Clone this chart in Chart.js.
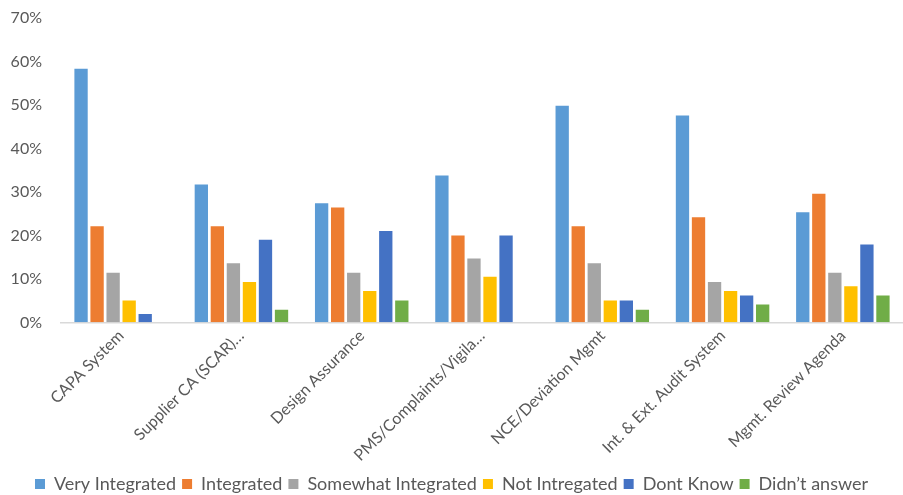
<!DOCTYPE html>
<html>
<head>
<meta charset="utf-8">
<script src="https://cdn.jsdelivr.net/npm/chart.js@4/dist/chart.umd.min.js"></script>
<style>
    html, body { margin: 0; padding: 0; background: #fff; }
    #wrap { width: 903px; height: 495px; }
</style>
</head>
<body>
<div id="wrap"><canvas id="integrationChart" width="903" height="495"></canvas></div>
<script>
"use strict";
const categories = ['CAPA System', 'Supplier CA (SCAR)…', 'Design Assurance', 'PMS/Complaints/Vigila…',
    'NCE/Deviation Mgmt', 'Int. & Ext. Audit System', 'Mgmt. Review Agenda'];
const veryIntegrated = [58.3, 31.7, 27.4, 33.8, 49.8, 47.6, 25.3];
const integrated = [22.1, 22.1, 26.4, 20.0, 22.1, 24.2, 29.6];
const somewhatIntegrated = [11.4, 13.6, 11.4, 14.7, 13.6, 9.3, 11.4];
const notIntegrated = [5.0, 9.3, 7.2, 10.5, 5.0, 7.2, 8.3];
const dontKnow = [1.9, 19.0, 21.0, 20.0, 5.0, 6.2, 17.9];
const didntAnswer = [0, 2.9, 5.0, 0, 2.9, 4.1, 6.2];
const seriesNames = ['Very Integrated', 'Integrated', 'Somewhat Integrated', 'Not Intregated', 'Dont Know', 'Didn’t answer'];
const seriesColors = ['#5B9BD5', '#ED7D31', '#A5A5A5', '#FFC000', '#4472C4', '#70AD47'];

const textColor = '#595959';
const fontFamily = 'Lato, "Noto Sans", sans-serif';

const seriesValues = [veryIntegrated, integrated, somewhatIntegrated, notIntegrated, dontKnow, didntAnswer];
const datasets = seriesValues.map((values, i) => ({
    label: seriesNames[i],
    data: values,
    backgroundColor: seriesColors[i],
    borderWidth: 0,
    categoryPercentage: 0.8,
    barPercentage: 0.83
}));

const ctx = document.getElementById('integrationChart').getContext('2d');
new Chart(ctx, {
    type: 'bar',
    data: { labels: categories, datasets: datasets },
    options: {
        responsive: false,
        animation: false,
        layout: { padding: { left: 0, right: 0, top: 18, bottom: -8 } },
        plugins: {
            tooltip: { enabled: false },
            legend: {
                position: 'bottom',
                labels: {
                    boxWidth: 10,
                    boxHeight: 10,
                    padding: 6,
                    color: textColor,
                    font: { family: fontFamily, size: 18 }
                }
            }
        },
        scales: {
            x: {
                grid: { display: false, drawTicks: false },
                border: { color: '#D9D9D9', width: 1.5 },
                ticks: {
                    autoSkip: false,
                    minRotation: 45,
                    maxRotation: 45,
                    padding: 4,
                    color: textColor,
                    font: { family: fontFamily, size: 16 }
                }
            },
            y: {
                min: 0,
                max: 70,
                afterFit: scale => {
                    scale.width = 61;
                    scale.paddingTop = 0;
                },
                grid: { display: false, drawTicks: false },
                border: { display: false },
                ticks: {
                    stepSize: 10,
                    padding: 19,
                    color: textColor,
                    font: { family: fontFamily, size: 16 },
                    callback: value => value + '%'
                }
            }
        }
    }
});
</script>
</body>
</html>
